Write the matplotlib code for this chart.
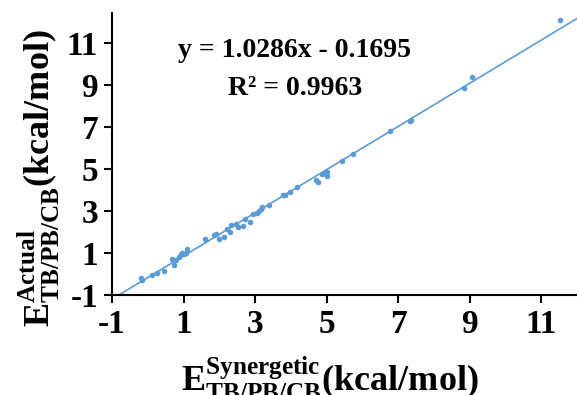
import matplotlib
matplotlib.use("Agg")
import matplotlib.pyplot as plt

plt.rcParams['font.family'] = 'Liberation Serif'
plt.rcParams['font.weight'] = 'bold'
plt.rcParams['axes.unicode_minus'] = False
plt.rcParams['mathtext.fontset'] = 'custom'
plt.rcParams['mathtext.bf'] = 'Liberation Serif:bold'
plt.rcParams['mathtext.rm'] = 'Liberation Serif:bold'

# synergetic vs actual energies (kcal/mol)
e_syn = [-0.20, -0.17, 0.13, 0.25, 0.45, 0.67, 0.73, 0.79, 0.88, 0.92,
         0.95, 1.01, 1.07, 1.11, 1.61, 1.85, 1.90, 1.98, 2.13, 2.22,
         2.30, 2.32, 2.48, 2.53, 2.67, 2.72, 2.85, 2.95, 3.04, 3.12,
         3.16, 3.20, 3.38, 3.79, 3.85, 3.97, 4.18, 4.70, 4.77, 4.88,
         4.93, 5.00, 5.00, 5.42, 5.74, 6.77, 7.32, 7.37, 8.84, 9.06,
         11.53]
e_act = [-0.17, -0.29, -0.05, 0.06, 0.14, 0.71, 0.43, 0.67, 0.83, 0.95,
         1.02, 0.95, 0.98, 1.21, 1.67, 1.84, 1.90, 1.65, 1.75, 2.13,
         1.98, 2.32, 2.38, 2.25, 2.29, 2.63, 2.49, 2.84, 2.92, 3.02,
         3.10, 3.17, 3.30, 3.75, 3.76, 3.89, 4.13, 4.46, 4.40, 4.76,
         4.79, 4.87, 4.67, 5.37, 5.73, 6.79, 7.30, 7.33, 8.87, 9.40,
         12.10]

slope = 1.0286
intercept = -0.1695
r2 = 0.9963
ticks = [-1, 1, 3, 5, 7, 9, 11]

blue = '#5B9BD5'

fig = plt.figure(figsize=(5.77, 3.95), dpi=100)
ax = fig.add_axes([112/577, 1 - 295/395, 1 - 112/577, (295 - 12.7)/395])

ax.scatter(e_syn, e_act, s=16, color=blue, zorder=3, linewidths=0)
ax.axline((0, intercept), slope=slope, color=blue, lw=1.2)

ax.set_xlim(-1, 12)
ax.set_ylim(-1, 12.45)
ax.set_xticks(ticks)
ax.set_yticks(ticks)
ax.spines['top'].set_visible(False)
ax.spines['right'].set_visible(False)
for s in ['left', 'bottom']:
    ax.spines[s].set_linewidth(1.5)
ax.tick_params(width=1.5, length=6, labelsize=24, pad=4)

ax.text(4.11, 10.35, 'y = %.4fx - %.4f' % (slope, -intercept),
        fontsize=20, ha='center', va='baseline')
ax.text(4.11, 8.52, 'R² = %.4f' % r2, fontsize=20, ha='center', va='baseline')

fig.text(330/577, 1 - 392/395,
         r'$\mathbf{E}^{\mathbf{Synergetic}}_{\mathbf{TB/PB/CB}}\mathbf{(kcal/mol)}$',
         fontsize=26, ha='center', va='baseline')
fig.text(50/577, 1 - 178/395,
         r'$\mathbf{E}^{\mathbf{Actual}}_{\mathbf{TB/PB/CB}}\mathbf{(kcal/mol)}$',
         fontsize=26, ha='center', va='baseline', rotation=90,
         rotation_mode='anchor')

fig.savefig('out.png', dpi=100)
